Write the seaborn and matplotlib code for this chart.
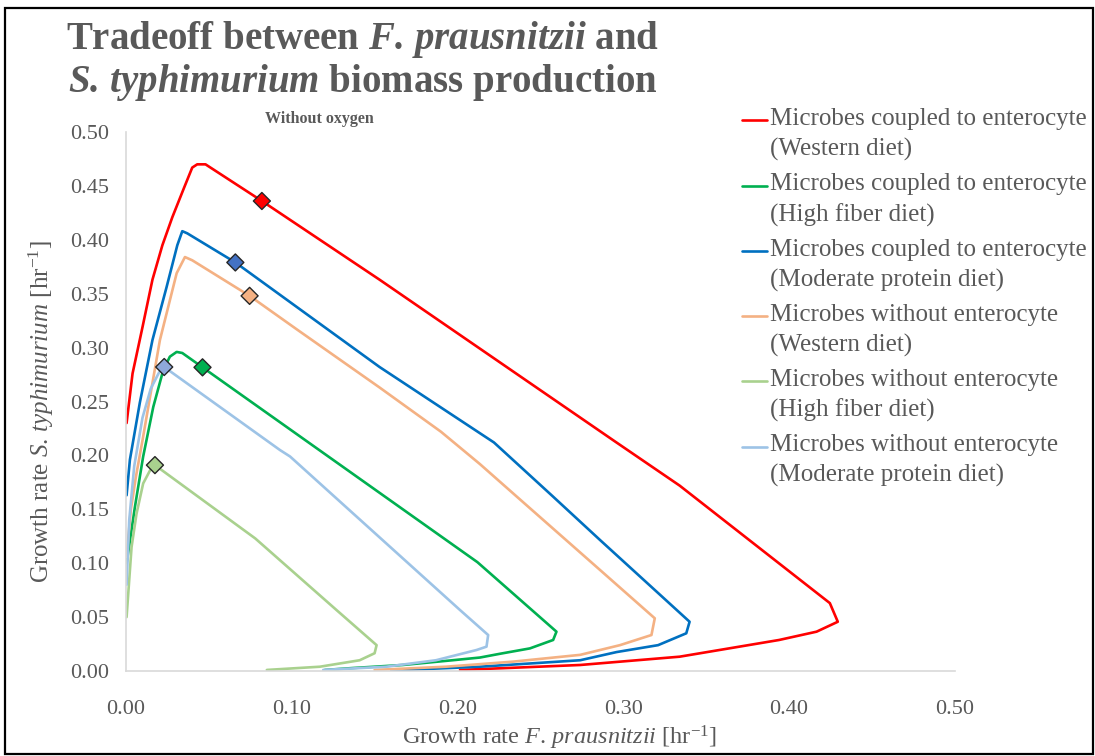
import numpy as np
import pandas as pd
import matplotlib
matplotlib.use("Agg")
import matplotlib.pyplot as plt
from matplotlib.legend_handler import HandlerLine2D
from matplotlib.lines import Line2D
from matplotlib.patches import Rectangle
import seaborn as sns

# ---- data: flux-space trade-off fronts (F. prausnitzii vs S. typhimurium growth) ----
series_names = [
    "Microbes coupled to enterocyte\n(Western diet)",
    "Microbes coupled to enterocyte\n(High fiber diet)",
    "Microbes coupled to enterocyte\n(Moderate protein diet)",
    "Microbes without enterocyte\n(Western diet)",
    "Microbes without enterocyte\n(High fiber diet)",
    "Microbes without enterocyte\n(Moderate protein diet)",
]

red_x = [0.0004, 0.004, 0.010, 0.016, 0.022, 0.028, 0.035, 0.040, 0.043, 0.048, 0.082,
         0.153, 0.294, 0.334, 0.4246, 0.4294, 0.4166, 0.394, 0.334, 0.274, 0.2015]
red_y = [0.230, 0.276, 0.319, 0.363, 0.395, 0.421, 0.448, 0.467, 0.470, 0.470, 0.436,
         0.363, 0.214, 0.172, 0.063, 0.0457, 0.0365, 0.0288, 0.0133, 0.0056, 0.001]

green_x = [0.0004, 0.0054, 0.0104, 0.0165, 0.0225, 0.0265, 0.0306, 0.034, 0.0462,
           0.212, 0.2597, 0.2577, 0.2437, 0.2256, 0.2135, 0.197, 0.167, 0.137, 0.120]
green_y = [0.100, 0.152, 0.199, 0.245, 0.279, 0.2916, 0.296, 0.295, 0.2817,
           0.101, 0.0365, 0.0288, 0.021, 0.016, 0.0125, 0.010, 0.0056, 0.0028, 0.001]

blue_x = [0.0004, 0.0024, 0.0084, 0.016, 0.0245, 0.031, 0.034, 0.037, 0.066, 0.153,
          0.222, 0.2575, 0.286, 0.340, 0.338, 0.321, 0.296, 0.274, 0.2135, 0.160]
blue_y = [0.163, 0.196, 0.249, 0.307, 0.356, 0.395, 0.408, 0.406, 0.379, 0.282,
          0.212, 0.162, 0.1215, 0.0457, 0.035, 0.024, 0.0176, 0.010, 0.004, 0.0005]

orange_x = [0.0004, 0.003, 0.006, 0.010, 0.0205, 0.0306, 0.0356, 0.040, 0.0746, 0.103,
            0.153, 0.190, 0.2135, 0.2356, 0.286, 0.319, 0.317, 0.298, 0.274, 0.2335,
            0.193, 0.150]
orange_y = [0.106, 0.150, 0.180, 0.214, 0.307, 0.369, 0.384, 0.381, 0.348, 0.317,
            0.263, 0.222, 0.192, 0.162, 0.0937, 0.0489, 0.0334, 0.024, 0.015, 0.0087,
            0.004, 0.001]

lgreen_x = [0.0004, 0.0034, 0.0064, 0.0104, 0.0145, 0.0175, 0.078, 0.127, 0.1512,
            0.150, 0.141, 0.117, 0.085]
lgreen_y = [0.050, 0.115, 0.146, 0.174, 0.186, 0.191, 0.123, 0.0566, 0.024,
            0.0165, 0.010, 0.004, 0.001]

lblue_x = [0.0004, 0.002, 0.005, 0.010, 0.015, 0.020, 0.0231, 0.0929, 0.099, 0.2015,
           0.2185, 0.2175, 0.2115, 0.187, 0.157, 0.119]
lblue_y = [0.080, 0.140, 0.190, 0.235, 0.262, 0.277, 0.282, 0.205, 0.199, 0.0566,
           0.0334, 0.0226, 0.0195, 0.010, 0.004, 0.001]

# highlighted operating point on each front
point_x = [0.082, 0.0462, 0.066, 0.0746, 0.0175, 0.0231]
point_y = [0.436, 0.2817, 0.379, 0.348, 0.191, 0.282]

x_ticks = [0.0, 0.1, 0.2, 0.3, 0.4, 0.5]
y_ticks = [0.0, 0.05, 0.10, 0.15, 0.20, 0.25, 0.30, 0.35, 0.40, 0.45, 0.50]

line_colors = ["#FF0000", "#00B050", "#0070C0", "#F4B183", "#A9D18E", "#9DC3E6"]
point_colors = ["#FF0000", "#00B050", "#4472C4", "#F4B183", "#A9D18E", "#8EA9DB"]

# ---- long-form table for seaborn ----
xs = [red_x, green_x, blue_x, orange_x, lgreen_x, lblue_x]
ys = [red_y, green_y, blue_y, orange_y, lgreen_y, lblue_y]
frames = []
for name, x, y in zip(series_names, xs, ys):
    frames.append(pd.DataFrame({"fp": x, "st": y, "series": name,
                                "order": np.arange(len(x))}))
df = pd.concat(frames, ignore_index=True)
pts = pd.DataFrame({"fp": point_x, "st": point_y, "series": series_names})

# ---- style ----
sns.set_theme(style="white")
serif = "Liberation Serif"
plt.rcParams["font.family"] = [serif, "DejaVu Serif"]
plt.rcParams["mathtext.fontset"] = "custom"
plt.rcParams["mathtext.rm"] = serif
plt.rcParams["mathtext.it"] = serif + ":italic"
plt.rcParams["mathtext.bf"] = serif + ":bold"
plt.rcParams["mathtext.bfit"] = serif + ":italic:bold"
text_grey = "#595959"

fig = plt.figure(figsize=(10.95, 7.56), dpi=100)
ax = fig.add_axes([0.115, 0.1124, 0.757, 0.713])

sns.lineplot(data=df, x="fp", y="st", hue="series", hue_order=series_names,
             palette=line_colors, sort=False, estimator=None, units="series",
             linewidth=1.9, ax=ax, legend=False)
sns.scatterplot(data=pts, x="fp", y="st", hue="series", hue_order=series_names,
                palette=point_colors, marker="D", s=75, edgecolor="#262626",
                linewidth=1.0, ax=ax, legend=False, zorder=5)

ax.set_xlim(0, 0.5)
ax.set_ylim(0, 0.5)
ax.set_xticks(x_ticks)
ax.set_yticks(y_ticks)
ax.set_xticklabels([f"{v:.2f}" for v in x_ticks])
ax.set_yticklabels([f"{v:.2f}" for v in y_ticks])
ax.tick_params(axis="both", length=0, labelsize=16, colors=text_grey)
ax.tick_params(axis="x", pad=21)
ax.tick_params(axis="y", pad=12)
for side in ["top", "right"]:
    ax.spines[side].set_visible(False)
for side in ["left", "bottom"]:
    ax.spines[side].set_color("#D9D9D9")
    ax.spines[side].set_linewidth(1.2)

ax.set_xlabel(r"Growth rate $\mathit{F.\,prausnitzii}$ [hr$^{\mathregular{-1}}$]",
              fontsize=17.5, color=text_grey, labelpad=3)
ax.set_ylabel(r"Growth rate $\mathit{S.\,typhimurium}$ [hr$^{\mathregular{-1}}$]",
              fontsize=18, color=text_grey, labelpad=10)
ax.xaxis.label.set_x(0.5235)
ax.yaxis.label.set_y(0.482)

# titles
fig.text(0.331, 0.948, r"Tradeoff between $\mathbfit{F.\,prausnitzii}$ and",
         ha="center", va="center", fontsize=28, fontweight="bold", color=text_grey)
fig.text(0.331, 0.891, r"$\mathbfit{S.\,typhimurium}$ biomass production",
         ha="center", va="center", fontsize=28, fontweight="bold", color=text_grey)
fig.text(0.292, 0.842, "Without oxygen", ha="center", va="center",
         fontsize=11.5, fontweight="bold", color=text_grey)


class TopLineHandler(HandlerLine2D):
    """Place the legend swatch beside the first line of a two-line label."""
    def create_artists(self, legend, orig_handle, xdescent, ydescent, width,
                       height, fontsize, trans):
        artists = super().create_artists(legend, orig_handle, xdescent, ydescent,
                                          width, height, fontsize, trans)
        for a in artists:
            yd = np.asarray(a.get_ydata(), dtype=float)
            a.set_ydata(yd + 0.56 * fontsize)
        return artists


legend_size = 18
handles = [Line2D([], [], color=c, lw=1.9) for c in line_colors]
leg = ax.legend(handles, series_names, loc="upper left",
                bbox_to_anchor=(0.6776, 0.857), bbox_transform=fig.transFigure,
                frameon=False, fontsize=legend_size, handlelength=1.0,
                handletextpad=0.12, labelspacing=0.48, borderaxespad=0, borderpad=0,
                handler_map={Line2D: TopLineHandler()})
for t in leg.get_texts():
    t.set_color(text_grey)
    t.set_linespacing(1.45)

# outer frame of the figure
fig.patches.append(Rectangle((0.005, 0.003), 0.993, 0.986, transform=fig.transFigure,
                             fill=False, edgecolor="black", linewidth=1.6))

fig.savefig("out.png", dpi=100)
